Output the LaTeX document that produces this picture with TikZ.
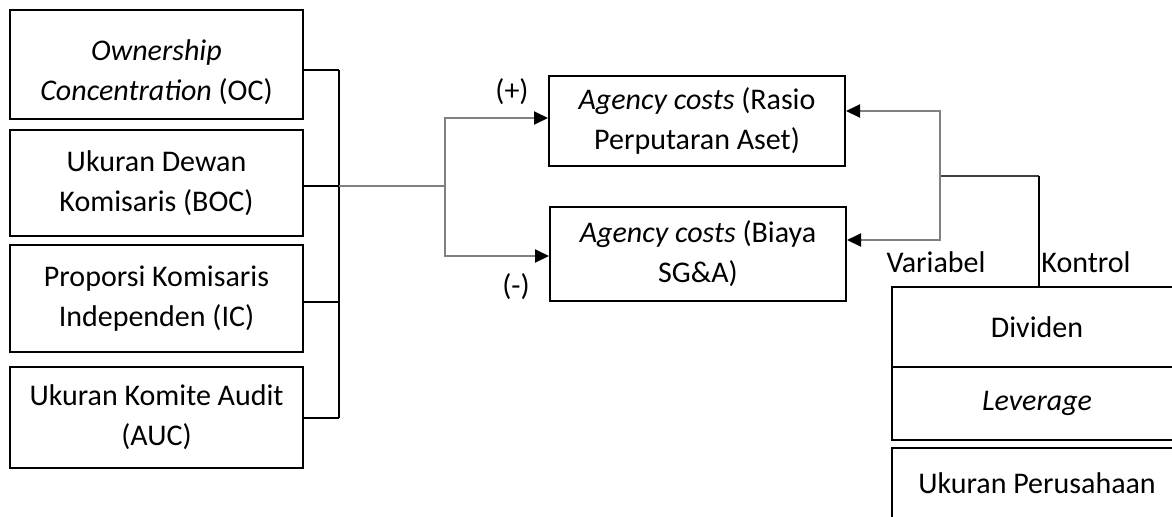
\documentclass[tikz,border=0pt]{standalone}
\usepackage{fontspec}
\setmainfont{Carlito}
\usetikzlibrary{arrows.meta,calc,positioning}
\definecolor{linegray}{RGB}{128,128,128}

\begin{document}
\begin{tikzpicture}[x=0.5pt,y=-0.5pt,
  >={Triangle[length=7pt,width=6.5pt,color=black]},
  font=\fontsize{15}{20}\selectfont,
  box/.style={draw,line width=1pt,align=center,inner sep=0pt},
  lbox/.style={box,minimum width=146.5pt},
  mbox/.style={box,minimum width=148pt},
  rbox/.style={box,minimum width=145pt},
  link/.style={line width=1pt}]
  \clip (0,0) rectangle (1172,516);

  % independent variables
  \node[lbox,minimum height=54.5pt] (oc) at (156.5,64.5) {\rule{0pt}{18pt}\textit{Ownership}\\\textit{Concentration} (OC)};
  \node[lbox,minimum height=53pt] (boc) at (156.5,183) {Ukuran Dewan\\Komisaris (BOC)};
  \node[lbox,minimum height=53.5pt] (ic) at (156.5,298.5) {Proporsi Komisaris\\Independen (IC)};
  \node[lbox,minimum height=50.5pt] (auc) at (156.5,417.5) {Ukuran Komite Audit\\(AUC)};

  % dependent variables
  \node[mbox,minimum height=45pt] (acr) at (697,121) {\textit{Agency costs} (Rasio\\Perputaran Aset)};
  \node[mbox,minimum height=47pt] (acb) at (698,254) {\textit{Agency costs} (Biaya\\SG\&A)};

  % control variables
  \node[rbox,minimum height=40pt] (div) at (1037,327) {Dividen};
  \node[rbox,minimum height=36.5pt] (lev) at (1037,403.5) {\textit{Leverage}};
  \node[rbox,minimum height=35pt] (size) at (1037,483) {Ukuran Perusahaan};

  \node (plus) at (512,92) {(+)};
  \node (minus) at (516,287) {(-)};
  \node (var) at (936,262) {Variabel};
  \node (kon) at (1086,262) {Kontrol};

  \coordinate (join) at (339,186);
  \coordinate (split) at (445,186);
  \coordinate (ctrl) at (940,176);
  \coordinate (ktop) at (1039,176);

  \foreach \n/\dy in {oc/-2.75,boc/-1.5,ic/-1.75,auc/-0.25}
    \draw[link] ([yshift=\dy pt]\n.east) -- ([yshift=\dy pt]\n.east -| join);
  \draw[link] ([yshift=-2.75pt]oc.east -| join) -- ([yshift=-0.25pt]auc.east -| join);
  \draw[link,linegray] (join) -- (split);
  \draw[link,linegray,->] (split) |- ([yshift=1.5pt]acr.west);
  \draw[link,linegray,->] (split) |- ([yshift=-1pt]acb.west);

  \draw[link,black!75] (ktop) -- (ctrl);
  \draw[link,linegray,->] (ctrl) |- ([yshift=5pt]acr.east);
  \draw[link,linegray,->] (ctrl) |- ([yshift=7pt]acb.east);
  \draw[link] (ktop) -- (ktop |- div.north);
\end{tikzpicture}
\end{document}
